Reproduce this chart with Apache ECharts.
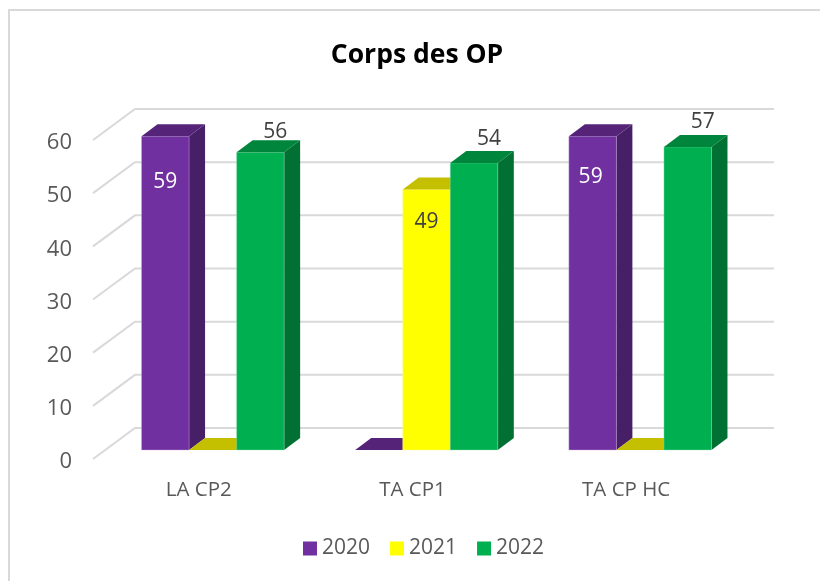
<!DOCTYPE html>
<html>
<head>
<meta charset="utf-8">
<title>Corps des OP</title>
<script src="https://cdn.jsdelivr.net/npm/echarts@6/dist/echarts.min.js"></script>
<style>
  html, body { margin: 0; padding: 0; background: #fff; }
  #main { width: 820px; height: 581px; }
</style>
</head>
<body>
<div id="main"></div>
<script>
var categories = ['LA CP2', 'TA CP1', 'TA CP HC'];
var years = ['2020', '2021', '2022'];
var values2020 = [59, 0, 59];
var values2021 = [0, 49, 0];
var values2022 = [56, 54, 57];
var yTicks = [0, 10, 20, 30, 40, 50, 60];

var FONT = '"Open Sans", sans-serif';
var BAR_RATIO = 47.5 / 213.5;
var DEPTH_X = 16, DEPTH_Y = 12;

// front, side and top colours of each year, and where its value labels sit
var looks = [
  { front: '#7030A0', side: '#471F66', top: '#552479', edge: '#C9ADDD', label: '#ffffff', lx: [0, 0, -2], ly: [46, 0, 41] },
  { front: '#FFFF00', side: '#A3A300', top: '#C4C000', edge: '#FFFF99', label: '#404040', lx: [0, 0, 0], ly: [0, 33, 0] },
  { front: '#00B050', side: '#007033', top: '#00853C', edge: '#99DFB9', label: '#404040', lx: [15, 15, 15], ly: [-20, -24, -25] }
];

function poly(points, fill) {
  return { type: 'polygon', shape: { points: points }, style: { fill: fill } };
}

function barSeries(name, values, idx) {
  var look = looks[idx];
  return {
    name: name,
    type: 'custom',
    itemStyle: { color: look.front },
    data: values.map(function (v, i) { return [i, v]; }),
    encode: { x: 0, y: 1 },
    z: 3 + idx,
    renderItem: function (params, api) {
      var cat = api.value(0);
      var v = api.value(1);
      var base = api.coord([cat, 0]);
      var top = api.coord([cat, v]);
      var w = api.size([1, 0])[0] * BAR_RATIO;
      var x0 = base[0] + (idx - 1.5) * w;
      var x1 = x0 + w;
      var y0 = base[1], y1 = top[1];
      var children = [];
      if (v > 0) {
        children.push(poly([[x1, y0], [x1 + DEPTH_X, y0 - DEPTH_Y], [x1 + DEPTH_X, y1 - DEPTH_Y], [x1, y1]], look.side));
        children.push({
          type: 'rect',
          shape: { x: x0, y: y1, width: w, height: y0 - y1 },
          style: { fill: look.front, stroke: look.edge, lineWidth: 0.4 }
        });
      }
      children.push(poly([[x0, y1], [x1, y1], [x1 + DEPTH_X, y1 - DEPTH_Y], [x0 + DEPTH_X, y1 - DEPTH_Y]], look.top));
      if (v > 0) {
        children.push({
          type: 'text',
          z2: 20,
          style: {
            x: x0 + w / 2 + look.lx[cat],
            y: y1 + look.ly[cat],
            text: String(v),
            fill: look.label,
            font: '21px ' + FONT,
            align: 'center',
            verticalAlign: 'middle'
          }
        });
      }
      return { type: 'group', children: children };
    }
  };
}

// side wall and back wall lines, one per y tick
var wallSeries = {
  type: 'custom',
  silent: true,
  z: 1,
  data: yTicks.map(function (t) { return [0, t]; }),
  encode: { x: 0, y: 1 },
  renderItem: function (params, api) {
    var y = api.coord([0, api.value(1)])[1];
    var left = params.coordSys.x;
    var right = left + params.coordSys.width;
    return {
      type: 'polyline',
      shape: { points: [[left - 13, y + 9], [left + 29, y - 22], [right + 27, y - 22]] },
      style: { stroke: '#D9D9D9', lineWidth: 2, fill: null }
    };
  }
};

var chart = echarts.init(document.getElementById('main'));
chart.setOption({
  animation: false,
  backgroundColor: '#fff',
  title: {
    text: 'Corps des OP',
    left: 412,
    top: 37,
    textAlign: 'center',
    textStyle: { fontFamily: FONT, fontSize: 26.5, fontWeight: 'bold', color: '#000' }
  },
  legend: {
    data: years,
    left: 298,
    top: 533,
    icon: 'rect',
    itemWidth: 14,
    itemHeight: 14,
    itemGap: 20,
    selectedMode: false,
    textStyle: { fontFamily: FONT, fontSize: 21, color: '#595959' }
  },
  grid: { left: 106, right: 73, top: 131, bottom: 131, containLabel: false },
  xAxis: {
    type: 'category',
    data: categories,
    axisLine: { show: false },
    axisTick: { show: false },
    axisLabel: { fontFamily: FONT, fontSize: 20.5, color: '#595959', margin: 30, padding: [0, 28, 0, 0] }
  },
  yAxis: {
    type: 'value',
    min: 0,
    max: 60,
    interval: 10,
    splitLine: { show: false },
    axisLine: { show: false },
    axisTick: { show: false },
    axisLabel: {
      fontFamily: FONT,
      fontSize: 22,
      color: '#595959',
      margin: 34,
      verticalAlign: 'top',
      lineHeight: 24
    }
  },
  graphic: [
    { type: 'line', shape: { x1: 9, y1: 10, x2: 9, y2: 581 }, style: { stroke: '#D9D9D9', lineWidth: 2 } },
    { type: 'line', shape: { x1: 8, y1: 10, x2: 820, y2: 10 }, style: { stroke: '#D9D9D9', lineWidth: 2 } }
  ],
  series: [
    wallSeries,
    barSeries(years[0], values2020, 0),
    barSeries(years[1], values2021, 1),
    barSeries(years[2], values2022, 2)
  ]
});
</script>
</body>
</html>
